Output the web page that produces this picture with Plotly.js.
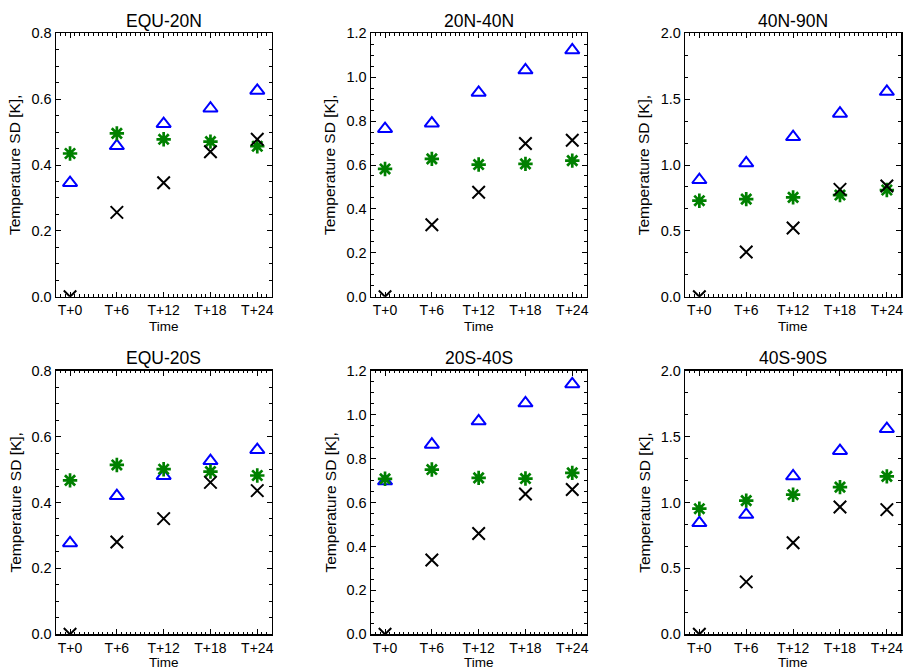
<!DOCTYPE html>
<html>
<head>
<meta charset="utf-8">
<script src="https://cdn.plot.ly/plotly-3.0.1.min.js"></script>
<style>html,body{margin:0;padding:0;background:#fff;}#chart{width:904px;height:670px;}</style>
</head>
<body>
<div id="chart"></div>
<script>
// ---- data ----
const hours = [0, 6, 12, 18, 24];
const tickLabels = ['T+0', 'T+6', 'T+12', 'T+18', 'T+24'];
const regions = ['EQU-20N', '20N-40N', '40N-90N', 'EQU-20S', '20S-40S', '40S-90S'];

// blue triangles
const triEQU20N = [0.346, 0.458, 0.525, 0.572, 0.626];
const tri20N40N = [0.765, 0.790, 0.930, 1.032, 1.123];
const tri40N90N = [0.887, 1.014, 1.213, 1.391, 1.557];
const triEQU20S = [0.277, 0.420, 0.481, 0.526, 0.560];
const tri20S40S = [0.697, 0.864, 0.970, 1.052, 1.139];
const tri40S90S = [0.845, 0.908, 1.200, 1.392, 1.559];

// green asterisks
const astEQU20N = [0.435, 0.496, 0.478, 0.471, 0.457];
const ast20N40N = [0.582, 0.628, 0.602, 0.605, 0.620];
const ast40N90N = [0.729, 0.741, 0.754, 0.772, 0.810];
const astEQU20S = [0.467, 0.514, 0.501, 0.494, 0.482];
const ast20S40S = [0.708, 0.750, 0.712, 0.709, 0.735];
const ast40S90S = [0.953, 1.014, 1.059, 1.117, 1.198];

// black crosses
const crsEQU20N = [0.0, 0.256, 0.346, 0.440, 0.478];
const crs20N40N = [0.0, 0.328, 0.476, 0.698, 0.713];
const crs40N90N = [0.0, 0.339, 0.522, 0.815, 0.840];
const crsEQU20S = [0.0, 0.280, 0.351, 0.461, 0.436];
const crs20S40S = [0.0, 0.338, 0.459, 0.639, 0.659];
const crs40S90S = [0.0, 0.398, 0.694, 0.966, 0.946];

const yMax = [0.8, 1.2, 2.0, 0.8, 1.2, 2.0];
const yMajor = [0.2, 0.2, 0.5, 0.2, 0.2, 0.5];

const triSets = [triEQU20N, tri20N40N, tri40N90N, triEQU20S, tri20S40S, tri40S90S];
const astSets = [astEQU20N, ast20N40N, ast40N90N, astEQU20S, ast20S40S, ast40S90S];
const crsSets = [crsEQU20N, crs20N40N, crs40N90N, crsEQU20S, crs20S40S, crs40S90S];

// ---- layout geometry (pixels) ----
const W = 904, H = 670;
const colX = [[56, 271.7], [371, 586.7], [685.3, 901.3]];
const rowY = [[33.3, 296.7], [370.7, 634.3]];
const timeOffset = [30, 28.5];
const px = x => x / W;
const py = y => 1 - y / H;

const font = 'Liberation Sans, Arial, Helvetica, sans-serif';
const traces = [];
const layout = {
  width: W, height: H,
  margin: {l: 0, r: 0, t: 0, b: 0},
  paper_bgcolor: '#fff', plot_bgcolor: '#fff',
  showlegend: false,
  font: {family: font, color: '#000', size: 14},
  annotations: []
};

for (let i = 0; i < 6; i++) {
  const r = Math.floor(i / 3), c = i % 3;
  const n = i + 1;
  const xa = 'x' + (n === 1 ? '' : n), ya = 'y' + (n === 1 ? '' : n);
  const xk = 'xaxis' + (n === 1 ? '' : n), yk = 'yaxis' + (n === 1 ? '' : n);

  traces.push({
    x: hours, y: triSets[i], xaxis: xa, yaxis: ya, type: 'scatter', mode: 'markers',
    marker: {symbol: 'triangle-up-open', size: 12.5, color: '#0000ff', line: {color: '#0000ff', width: 2}}
  });
  traces.push({
    x: hours, y: astSets[i], xaxis: xa, yaxis: ya, type: 'scatter', mode: 'markers',
    marker: {symbol: 'asterisk-open', size: 12, color: '#008000', line: {color: '#008000', width: 2.7}}
  });
  traces.push({
    x: hours, y: crsSets[i], xaxis: xa, yaxis: ya, type: 'scatter', mode: 'markers',
    marker: {symbol: 'x-thin-open', size: 12.5, color: '#000', line: {color: '#000', width: 2}}
  });

  layout[xk] = {
    domain: [px(colX[c][0]), px(colX[c][1])],
    anchor: ya,
    range: [-1.8, 25.85],
    tickmode: 'array', tickvals: hours, ticktext: tickLabels,
    ticks: 'inside', ticklen: 5, tickwidth: 1, tickcolor: '#000',
    minor: {dtick: 0.6, tick0: 0, ticks: 'inside', ticklen: 2.5, tickcolor: '#000', tickwidth: 1, showgrid: false},
    showline: true, linecolor: '#000', linewidth: 1.5, mirror: 'allticks',
    showgrid: false, zeroline: false,
    tickfont: {family: font, size: 14, color: '#000'},
    fixedrange: true
  };
  layout[yk] = {
    domain: [py(rowY[r][1]), py(rowY[r][0])],
    anchor: xa,
    range: [0, yMax[i]],
    dtick: yMajor[i], tick0: 0, tickformat: '.1f',
    ticks: 'inside', ticklen: 5, tickwidth: 1, tickcolor: '#000',
    minor: {dtick: yMajor[i] === 0.5 ? 0.5 / 3 : 0.05, tick0: 0, ticks: 'inside', ticklen: 3, tickcolor: '#000', tickwidth: 1, showgrid: false},
    showline: true, linecolor: '#000', linewidth: 1.5, mirror: 'allticks',
    showgrid: false, zeroline: false,
    tickfont: {family: font, size: 14.5, color: '#000'},
    fixedrange: true
  };

  const cx = (colX[c][0] + colX[c][1]) / 2;
  const cy = (rowY[r][0] + rowY[r][1]) / 2;
  // panel title
  layout.annotations.push({
    text: regions[i], xref: 'paper', yref: 'paper', x: px(cx), y: py(rowY[r][0] - 12.5),
    xanchor: 'center', yanchor: 'middle', showarrow: false,
    font: {family: font, size: 17.5, color: '#000'}
  });
  // y title
  layout.annotations.push({
    text: 'Temperature SD [K],', xref: 'paper', yref: 'paper', x: px(colX[c][0] - 41), y: py(cy),
    xanchor: 'center', yanchor: 'middle', textangle: -90, showarrow: false,
    font: {family: font, size: 15.5, color: '#000'}
  });
  // x title
  layout.annotations.push({
    text: 'Time', xref: 'paper', yref: 'paper', x: px(cx), y: py(rowY[r][1] + timeOffset[r]),
    xanchor: 'center', yanchor: 'middle', showarrow: false,
    font: {family: font, size: 13.5, color: '#000'}
  });
}

Plotly.newPlot('chart', traces, layout, {displayModeBar: false, staticPlot: true});
</script>
</body>
</html>
